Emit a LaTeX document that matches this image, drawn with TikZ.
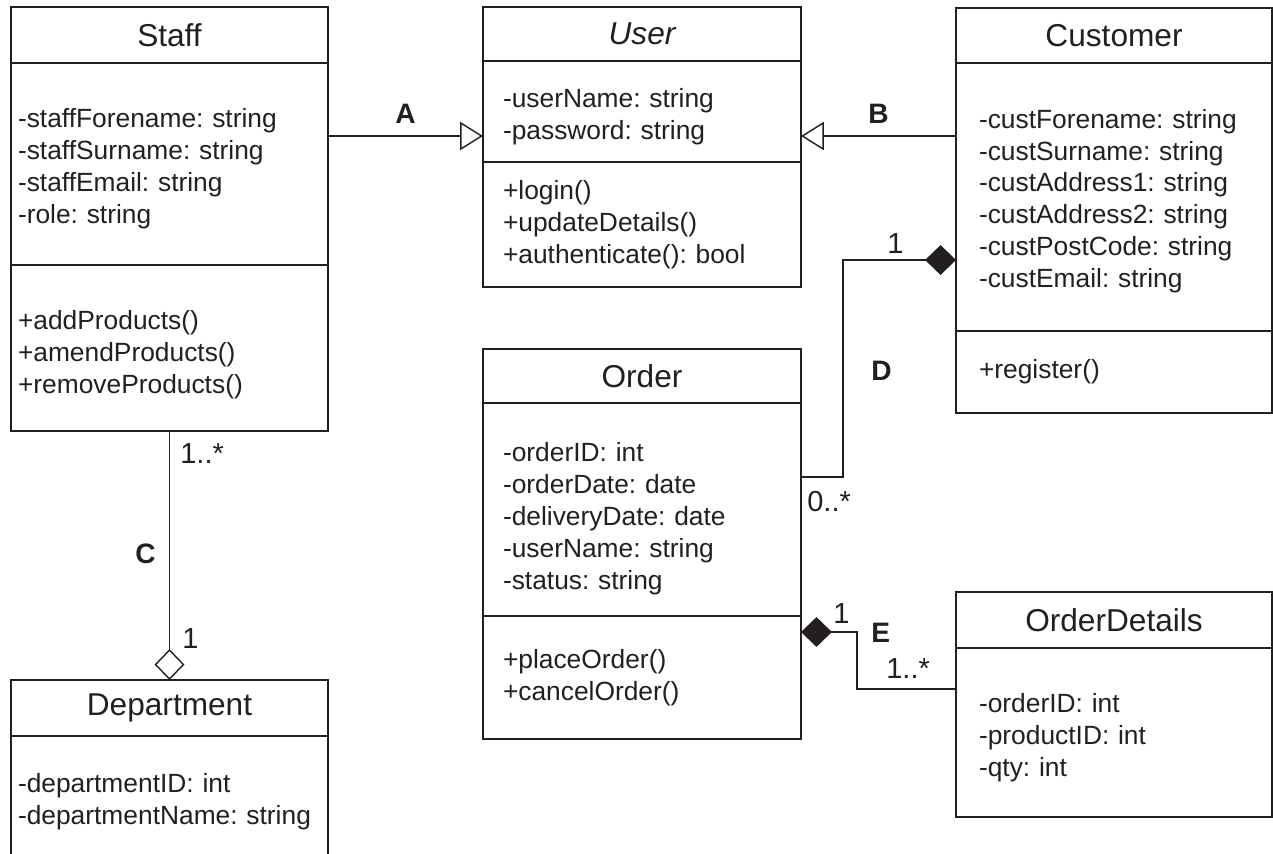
\documentclass[tikz,border=0pt]{standalone}
\usepackage{fontspec}
\setmainfont{Liberation Sans}
\usepackage{xcolor}
\usepackage{tikz}
\usetikzlibrary{arrows.meta}
\definecolor{ink}{RGB}{35,31,32}
\frenchspacing
\newcommand{\umltitle}{\fontsize{18}{22}\selectfont}
\newcommand{\umltext}{\fontsize{15}{18.2}\selectfont}
\newcommand{\umltag}{\fontsize{16}{19}\selectfont\bfseries}
\newcommand{\umlmult}{\fontsize{16.5}{19}\selectfont}
\newcommand{\unitpx}{0.02cm}

\begin{document}
\begin{tikzpicture}[x=0.02cm, y=-0.02cm, color=ink,
  box/.style={draw=ink, line width=0.8pt, anchor=north west, inner ysep=0pt,
              outer sep=0pt, align=left, font=\umltext},
  head/.style={align=center, font=\umltitle},
  cls/.style n args={3}{minimum width=#1*\unitpx, minimum height=#2*\unitpx,
              inner xsep=#3*\unitpx, text width=(#1-2*#3)*\unitpx},
  push/.style={execute at begin node={\rule{0pt}{#1}}},
  genarrow/.style={line width=0.8pt, -{Triangle[open, length=13pt, width=16pt]}},
  compos/.style={line width=0.8pt, -{Diamond[length=17.6pt, width=17pt]}},
  aggreg/.style={line width=0.8pt, -{Diamond[open, length=17.6pt, width=17pt]}},
  tag/.style={font=\umltag, inner sep=0pt, anchor=base west},
  mult/.style={font=\umlmult, inner sep=0pt, anchor=base west}]

\useasboundingbox (0,0) rectangle (1273,853);
\clip (0,0) rectangle (1273,853);

% STAFF
  \node[box, head, cls={317}{56}{0}] (staffT) at (11,7) {Staff};
  \node[box, push=16.7pt, cls={317}{202}{7}] (staffA) at (staffT.south west)
    {-staffForename: string\\-staffSurname: string\\-staffEmail: string\\-role: string};
  \node[box, push=19pt, cls={317}{166}{7}] (staffM) at (staffA.south west)
    {+addProducts()\\+amendProducts()\\+removeProducts()};

% USER (abstract)
  \node[box, head, font=\umltitle\itshape, cls={318}{54}{0}] (userT) at (483,7) {User};
  \node[box, push=16.7pt, cls={318}{101}{20}] (userA) at (userT.south west)
    {-userName: string\\-password: string};
  \node[box, cls={318}{125}{20}] (userM) at (userA.south west)
    {+login()\\+updateDetails()\\+authenticate(): bool};

% CUSTOMER
  \node[box, head, cls={316}{55}{0}] (custT) at (956,8) {Customer};
  \node[box, push=15.6pt, cls={316}{268}{23}] (custA) at (custT.south west)
    {-custForename: string\\-custSurname: string\\-custAddress1: string\\-custAddress2: string\\-custPostCode: string\\-custEmail: string};
  \node[box, cls={316}{82}{23}] (custM) at (custA.south west) {+register()};

% ORDER
  \node[box, head, cls={318}{54}{0}] (orderT) at (483,349) {Order};
  \node[box, push=21.8pt, cls={318}{213}{20}] (orderA) at (orderT.south west)
    {-orderID: int\\-orderDate: date\\-deliveryDate: date\\-userName: string\\-status: string};
  \node[box, cls={318}{123}{20}] (orderM) at (orderA.south west)
    {+placeOrder()\\+cancelOrder()};

% ORDER DETAILS
  \node[box, head, cls={316}{56}{0}] (detT) at (956,592) {OrderDetails};
  \node[box, push=16.7pt, cls={316}{169}{23}] (detA) at (detT.south west)
    {-orderID: int\\-productID: int\\-qty: int};

% DEPARTMENT
  \node[box, head, cls={317}{56}{0}] (deptT) at (11,680) {Department};
  \node[box, push=14.4pt, cls={317}{126}{7}] (deptA) at (deptT.south west)
    {-departmentID: int\\-departmentName: string};

% A, B: generalisation
  \coordinate (genY) at (0,136);
  \draw[genarrow] (staffA.east |- genY) -- (userA.west |- genY);
  \draw[genarrow] (custA.west |- genY) -- (userA.east |- genY);
  \node[tag] (tagA) at (395,123) {A};
  \node[tag] (tagB) at (868,123) {B};

% C: aggregation
  \draw[aggreg] (staffM.south) -- (deptT.north);
  \node[tag] (tagC) at (135,563) {C};
  \node[mult] (multC1) at (180,463) {1..*};
  \node[mult] (multC2) at (182,648) {1};

% D: composition
  \coordinate (dKnee) at (843,260);
  \coordinate (dLow) at (0,477);
  \draw[compos] (orderA.east |- dLow) -| (dKnee) -- (custA.west |- dKnee);
  \node[tag] (tagD) at (871,380) {D};
  \node[mult] (multD1) at (887,253) {1};
  \node[mult] (multD2) at (807,511) {0..*};

% E: composition
  \coordinate (eKnee) at (857,632);
  \coordinate (eLow) at (0,689);
  \draw[compos] (detA.west |- eLow) -| (eKnee) -- (orderM.east |- eKnee);
  \node[tag] (tagE) at (871,642) {E};
  \node[mult] (multE1) at (833,623) {1};
  \node[mult] (multE2) at (886,678) {1..*};

\end{tikzpicture}
\end{document}
